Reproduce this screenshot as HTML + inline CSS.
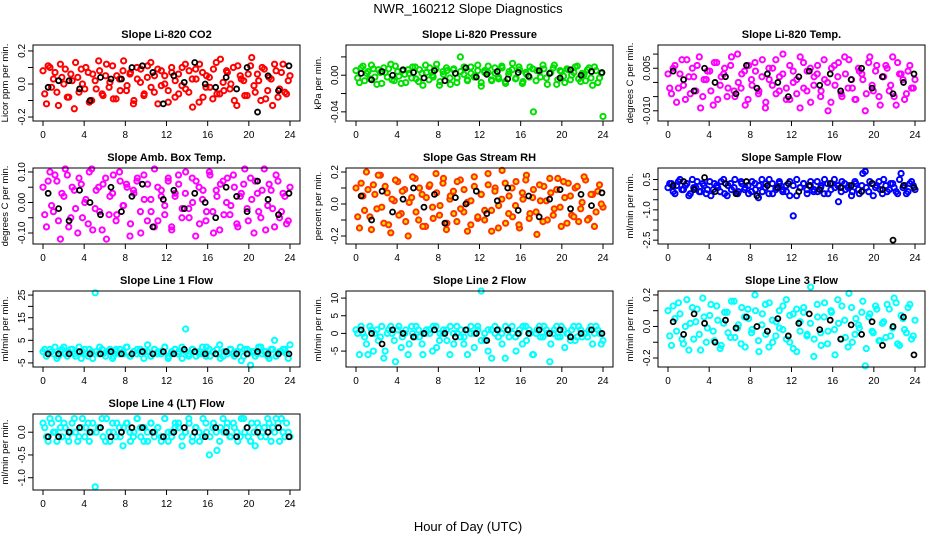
<!DOCTYPE html>
<html><head><meta charset="utf-8"><style>
body{margin:0;background:#fff;}
svg{display:block;font-family:"Liberation Sans",sans-serif;}
</style></head><body>
<svg id="c" width="936" height="540">
<text x="468" y="13" text-anchor="middle" font-size="13">NWR_160212  Slope Diagnostics</text>
<text x="468" y="531" text-anchor="middle" font-size="13">Hour of Day (UTC)</text>
</svg>
<script>
const titles=["Slope Li-820 CO2","Slope Li-820 Pressure","Slope Li-820 Temp.","Slope Amb. Box Temp.","Slope Gas Stream RH","Slope Sample Flow","Slope Line 1 Flow","Slope Line 2 Flow","Slope Line 3 Flow","Slope Line 4 (LT) Flow"];
const yTitles=["Licor ppm per min.","kPa per min.","degrees C per min.","degrees C per min.","percent per min.","ml/min per min.","ml/min per min.","ml/min per min.","ml/min per min.","ml/min per min."];
const colors=["#ff0000","#00e000","#ff00ff","#ff00ff","#ff3300","#0000ff","#00ffff","#00ffff","#00ffff","#00ffff"];
const units=[0.01,0.001,0.001,0.01,0.01,0.1,1,1,0.01,0.1];
const xTicks=[0,4,8,12,16,20,24];
const yTicks=[[-0.2,-0.1,0,0.1,0.2],[-0.04,-0.02,0,0.02],[-0.01,-0.005,0,0.005,0.01],[-0.1,-0.05,0,0.05,0.1],[-0.2,-0.1,0,0.1,0.2],[-2.5,-2,-1.5,-1,-0.5,0,0.5],[-5,0,5,10,15,20,25],[-5,0,5,10],[-0.2,-0.1,0,0.1,0.2],[-1,-0.5,0]];
const yTickLabels=[["-0.2","","0.0","","0.2"],["-0.04","","0.00",""],["-0.010","","","0.005",""],["-0.10","","0.00","","0.10"],["-0.2","","0.0","","0.2"],["-2.5","","","-1.0","","","0.5"],["-5","","5","","15","","25"],["-5","0","5","10"],["-0.2","","0.0","","0.2"],["-1.0","-0.5","0.0"]];
const yLims=[[-0.224,0.236],[-0.05,0.033],[-0.0136,0.0132],[-0.136,0.113],[-0.25,0.225],[-2.69,1.07],[-6.8,26.8],[-9.5,12],[-0.257,0.225],[-1.27,0.4]];
const colorVals=[
[8,-12,10,3,-5,12,0,-8,6,-15,4,9,-3,7,-10,2,14,-6,5,-2,11,-9,3,8,-4,6,-12,10,1,-7,4,13,-5,9,-1,5,-11,7,2,-6,10,-3,8,-14,3,12,-8,5,-2,9,-6,15,-4,7,0,-10,11,3,-7,6,16,-5,2,10,-9,4,-13,8,-3,12,-6,5],
[5,-8,10,2,-4,7,-10,3,8,-2,12,-6,4,-9,1,6,-3,9,-7,2,11,-5,0,7,-11,4,8,-3,6,-8,20,1,-5,9,-2,5,-12,3,10,-6,2,-4,8,-9,4,13,-3,6,-7,1,9,-40,5,-2,7,-10,3,11,-5,4,-8,6,0,9,-4,2,-6,8,-11,5,-3,-45],
[3,-4,6,-2,8,-6,2,5,-3,9,-5,1,4,-8,7,-1,3,-5,6,-3,10,-2,4,-6,1,7,-4,2,-9,5,-1,8,-3,3,-6,6,0,-4,9,-2,4,-7,2,6,-3,1,-10,5,-1,7,-5,3,8,-2,-6,4,1,-4,9,-3,6,-8,2,5,-1,-5,7,3,-6,4,-2,1],
[5,-8,10,-3,7,-12,2,9,-5,4,-10,6,0,-7,11,-2,5,-9,8,-4,3,-6,10,-1,6,-11,4,7,-3,9,-6,1,-8,5,2,-4,8,-9,3,6,-2,10,-5,0,7,-7,4,-3,9,-10,2,6,-4,8,-1,5,-8,3,11,-6,1,7,-3,4,-9,6,-2,9,-5,3,-7,5],
[10,-15,5,20,-8,12,-3,18,-12,7,-18,2,14,-6,9,-20,4,16,-10,6,-14,11,-2,19,-7,13,-16,3,8,-11,15,-5,1,-13,17,-9,6,-4,12,-17,10,-1,21,-12,5,-8,14,-15,3,18,-6,9,-19,2,11,-10,7,-3,16,-14,4,13,-7,10,-11,1,15,-9,6,-5,12,-2],
[1,3,-2,4,0,2,-3,5,1,-1,3,-2,4,0,2,-1,5,-3,3,1,-2,4,0,2,-1,3,-4,5,1,-2,3,0,4,-1,2,-3,-13,5,1,3,-2,4,0,-1,2,5,-2,3,1,-6,4,0,2,-1,3,-2,8,1,4,-3,2,0,5,-1,3,1,-2,8,2,-1,4,0],
[0,-2,1,-1,-3,0,2,-2,1,-1,0,-3,1,-2,0,26,-1,1,-2,0,-3,1,-1,0,2,-2,0,-1,1,-3,0,-2,1,-1,0,2,-2,-1,1,0,-3,10,-1,1,-2,0,-1,2,-2,0,1,-3,0,-1,1,-2,0,-4,1,-1,0,-2,2,-1,0,-3,1,-2,0,1,-1,3],
[1,-6,0,-3,2,-5,1,-1,-7,0,2,-2,1,-4,0,-6,2,-1,1,-3,0,1,-5,2,-2,0,1,-6,0,2,-1,-3,1,0,-4,2,12,-2,1,-7,0,1,-3,2,-1,0,-5,1,2,-2,0,-6,1,-1,2,0,-3,1,-1,2,-4,0,1,-2,2,-1,0,1,-3,2,0,-2],
[10,-12,5,15,-8,0,-15,12,3,-5,18,-10,7,-3,13,-14,2,9,-7,16,-1,-11,6,11,-4,20,-9,1,14,-13,4,-6,10,-2,17,-10,8,-16,3,12,-5,25,-8,6,-12,15,-3,9,-18,2,13,-7,21,-10,5,-1,16,-14,8,-4,11,-9,3,14,-6,18,-11,7,-2,12,-8,4],
[2,-1,3,0,-2,1,2,-1,0,3,-2,1,-1,2,0,-12,1,3,-2,0,2,-1,1,-3,2,0,-1,3,1,-2,0,2,-1,1,-2,3,0,-1,2,1,-3,0,2,-1,1,-2,3,0,-1,2,-4,1,0,2,-1,1,-2,3,0,-1,2,-3,1,0,-1,2,1,3,-2,0,2,-1]];
const colorVals2=[
[-6,11,-2,7,-13,4,9,-8,2,13,-5,0,10,-11,6,-3,8,-7,12,1,-9,5,-4,14,-1,7,-10,3,9,-6,11,-2,5,-12,8,0,-4,10,-8,6,-1,12,-5,3,9,-11,7,-2,4,-9,13,-6,1,8,-3,10,-13,5,2,-7,11,-1,6,-10,9,-4,3,12,-8,7,-5,2],
[-3,8,-6,4,11,-2,6,-9,3,7,-5,10,-1,5,-8,2,9,-4,6,-11,3,8,-2,12,-7,1,5,-10,7,-3,4,9,-6,2,-1,11,-8,5,3,-5,8,-2,10,-7,1,6,-4,9,-9,3,-2,7,-6,4,11,-3,2,8,-10,5,-1,7,-5,3,10,-7,1,6,-3,9,-8,2],
[-2,5,-7,3,-1,8,-4,2,6,-9,1,4,-3,7,-6,2,5,-2,9,-5,0,3,-8,6,-1,4,-3,8,-7,1,5,-4,2,10,-2,-6,4,1,-9,7,-3,5,-1,3,-5,8,0,-7,6,2,-4,9,-2,1,-6,5,3,-10,7,-1,4,-5,2,6,-3,9,-8,3,1,-4,6,-2],
[-4,7,-1,9,-6,3,11,-8,5,-2,8,-5,1,10,-9,4,-3,6,-12,2,9,-4,7,-1,5,-7,3,8,-10,1,6,-3,11,-6,4,-1,7,-8,2,9,-5,3,-2,8,-11,5,1,-6,10,-3,4,-9,7,0,-4,9,-7,2,6,-2,8,-10,3,-5,11,-1,4,-8,7,-3,2,-6],
[-8,13,-4,9,-16,6,18,-2,11,-13,3,15,-7,8,-11,1,17,-5,10,-14,4,12,-9,7,-1,16,-12,5,-6,14,-3,9,-17,2,11,-8,6,-10,19,-4,8,-15,3,13,-6,10,-1,-13,7,15,-9,4,-5,12,-11,2,16,-7,9,-2,14,-12,5,-8,11,-3,17,-10,6,-14,8,0],
[3,-1,2,5,0,3,-2,1,4,-1,2,0,-3,3,1,4,-2,2,0,5,-1,3,1,-2,4,0,2,-1,3,5,-2,1,3,0,-1,4,2,-3,1,3,0,2,-1,4,1,-2,3,0,5,2,-1,3,1,-3,4,0,2,9,-1,3,1,4,-2,2,0,3,-1,5,1,-2,3,2],
[1,-1,0,2,-2,1,-1,0,1,-2,2,0,-1,1,-3,0,2,-1,0,1,-2,0,1,-1,2,-2,0,1,-1,0,3,-2,1,0,-1,2,-3,0,1,-1,2,0,-2,1,0,-1,2,-2,1,0,-1,3,-2,0,1,-1,0,2,-2,1,-6,0,-1,2,0,-2,1,5,-1,0,1,-3],
[0,2,-1,-6,1,0,-2,2,-5,1,0,-8,2,-1,1,-3,0,2,-1,-6,1,0,2,-4,0,1,-2,2,-3,0,1,-1,-6,2,0,1,-2,0,-5,1,2,-1,0,-7,1,2,-1,0,-3,2,1,-6,0,2,-1,1,-8,0,2,-1,1,0,-2,2,-1,1,0,-1,2,0,1,-3],
[-6,13,-3,8,-11,17,2,-8,11,-15,6,-1,14,-9,4,-12,9,-4,16,-7,1,12,-13,5,-2,10,-16,8,-5,15,-10,3,-1,13,-8,7,-14,11,-3,9,-6,2,-19,14,-4,6,-11,10,-2,17,-8,4,-13,12,-5,1,9,-25,6,-3,13,-9,2,-7,11,-1,15,-12,5,-4,14,-6],
[1,-2,2,0,3,-1,1,-2,2,0,-1,3,1,-2,2,0,1,-1,3,-2,0,2,-1,1,2,-2,0,3,-1,1,-2,2,0,1,-1,3,-2,0,1,2,-1,0,3,-2,1,0,-1,2,-5,1,0,-2,3,1,-1,2,0,-1,3,1,-2,0,2,-1,1,3,-2,0,2,3,-1,0]];
const blackVals=[
[-2,2,2,-3,-10,4,3,3,10,11,7,-12,5,1,13,0,-2,4,-3,10,-17,5,-4,11],
[2,-5,4,0,6,3,-3,5,-6,2,8,-2,1,4,-4,3,-1,5,2,-3,6,0,4,3],
[4,1,-3,5,0,2,-4,6,-2,3,0,-5,2,4,-1,3,-3,1,5,-2,2,-4,0,3],
[3,-2,-6,4,0,-4,5,-3,2,6,-8,1,4,-2,3,0,-5,5,2,-3,7,1,-4,3],
[5,-10,8,-5,3,10,-2,6,-12,4,0,8,-6,2,10,-4,5,-8,3,9,-3,6,-1,7],
[2,4,0,6,-1,3,-2,4,-3,2,1,3,-1,2,0,3,1,2,-1,3,0,-25,2,1],
[-1,-1,-1,0,-1,-1,0,-1,-1,0,-1,0,-1,1,0,-1,-1,0,-1,-1,0,-1,-1,-1],
[1,0,-3,1,0,-1,0,1,0,-1,1,0,-2,1,1,0,0,1,0,1,-1,0,1,0],
[3,-5,8,2,-10,4,-1,6,0,-3,5,-6,2,8,-2,4,-8,1,-5,3,-12,0,6,-18],
[-1,-1,0,1,0,1,-1,0,1,1,0,-1,0,1,0,-1,1,0,-1,1,0,0,1,-1]];

const NS="http://www.w3.org/2000/svg";
const svg=document.getElementById('c');
function mk(tag,attrs,parent){const e=document.createElementNS(NS,tag);for(const k in attrs)e.setAttribute(k,attrs[k]);(parent||svg).appendChild(e);return e;}
const colX=[33,346,658],rowY=[45,168,291,414],W=267,H=76;
for(let p=0;p<10;p++){
  const bx=colX[p%3],by=rowY[Math.floor(p/3)];
  const g=mk('g',{});
  
  
  const xs=v=>bx+10+v/24*(W-20);
  const [lo,hi]=yLims[p];
  const ys=v=>by+H-(v-lo)/(hi-lo)*H;
  const t=mk('text',{x:bx+W/2,y:by-7,'text-anchor':'middle','font-size':11,'font-weight':'bold'},g);
  t.textContent=titles[p];
  
  
  const fill=p==4?'#ffdd00':'none';
  [colorVals[p],colorVals2[p]].forEach((cv,k)=>{
    const n=cv.length;
    cv.forEach((v,i)=>{
      const hr=k==0?i*24/(n-1):(i+0.5)*24/n;
      const c=mk('circle',{cx:xs(hr),cy:ys(v*units[p]),r:2.6,fill:fill,stroke:colors[p],'stroke-width':2},g);
      
      
    });
  });
  const bv=blackVals[p],m=bv.length;
  bv.forEach((v,i)=>{
    const c=mk('circle',{cx:xs(0.5+i*23.4/(m-1)),cy:ys(v*units[p]),r:2.5,fill:'none',stroke:'#000','stroke-width':1.8},g);
    
    
  });
  const box=mk('rect',{x:bx,y:by,width:W,height:H,fill:'none',stroke:'#000','stroke-width':1},g);
  
  
  xTicks.forEach(v=>{
    mk('line',{x1:xs(v),x2:xs(v),y1:by+H,y2:by+H+5,stroke:'#000'},g);
    const l=mk('text',{x:xs(v),y:by+H+17,'text-anchor':'middle','font-size':10},g);
    l.textContent=v;
    
    
  });
  yTicks[p].forEach((v,i)=>{
    const y=ys(v);
    mk('line',{x1:bx-5,x2:bx,y1:y,y2:y,stroke:'#000'},g);
    if(yTickLabels[p][i]){
      const l=mk('text',{x:bx-8,y:y,'text-anchor':'middle','font-size':10,transform:`rotate(-90 ${bx-8} ${y})`},g);
      l.textContent=yTickLabels[p][i];
      
      
    }
  });
  const yt=mk('text',{x:bx-25,y:by+H/2,'text-anchor':'middle','font-size':9.5,transform:`rotate(-90 ${bx-25} ${by+H/2})`},g);
  yt.textContent=yTitles[p];
  
  
}
</script>
</body></html>
